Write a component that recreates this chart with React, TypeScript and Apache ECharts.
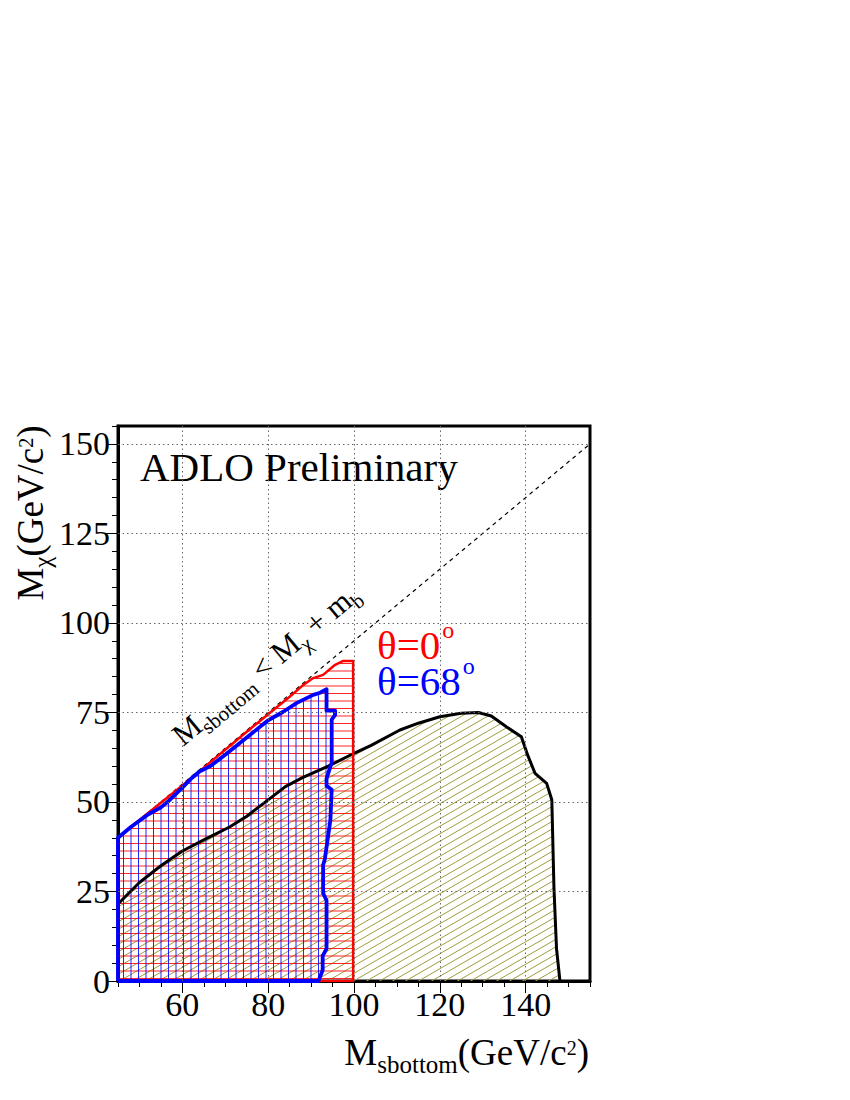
import React, { useEffect, useRef } from "react";
import * as echarts from "echarts";

// ---- axis ranges / ticks ----
const X_MIN = 45;
const X_MAX = 155;
const Y_MIN = 0;
const Y_MAX = 155;
const xLabelValues = [60, 80, 100, 120, 140];
const yLabelValues = [0, 25, 50, 75, 100, 125, 150];
const xGridValues = [60, 80, 100, 120, 140];
const yGridValues = [25, 50, 75, 100, 125, 150];

// ---- excluded region (black boundary, olive hatch) ----
const excludedBoundary: number[][] = [
  [45, 21.5], [50, 27.5], [55, 32.2], [60, 36.3], [65, 39.4], [71, 43],
  [75, 46], [80, 50.6], [84, 54.3], [88, 56.8], [94, 60], [100, 63.6],
  [104, 65.8], [110.7, 70.1], [115, 72], [120, 73.8], [125, 74.8], [129, 75],
  [132, 74], [135.5, 71], [139, 68.2], [140.5, 63], [142.2, 58], [144.9, 55.2],
  [146.1, 50.6], [146.6, 26], [147.2, 9], [148, 0],
];

// ---- theta = 0 deg region (red) ----
const theta0Boundary: number[][] = [
  [45, 0], [45, 40], [50, 45], [55, 49.8], [60, 54.6], [65, 59.6], [70, 64.6],
  [75, 69.6], [80, 74.5], [85, 79.4], [88, 82.5], [90.5, 84.6], [92.8, 85.5],
  [95.6, 88.3], [97.5, 89.4], [99.8, 89.4], [99.8, 0], [45, 0],
];

// ---- theta = 68 deg region (blue) ----
const theta68Boundary: number[][] = [
  [45, 0], [45, 40], [48, 43], [52, 46.5], [55, 48.5], [57, 50.5], [60, 54],
  [62, 56.5], [64, 58.5], [66.5, 60], [70, 63.2], [75, 68], [80, 72.8],
  [83.5, 75.2], [86.6, 77.6], [90.5, 79.9], [92.1, 80.5], [93.6, 81.5],
  [93.6, 75.5], [95.6, 75.5], [95.6, 74.3], [94.8, 73], [94.8, 61],
  [93.6, 56.5], [93.6, 54.5], [94.8, 53.4], [94.5, 45], [93.2, 34],
  [92.8, 32.4], [92.8, 24.5], [93.6, 22.5], [93.6, 9], [92.7, 7], [92.7, 3],
  [91.7, 0], [45, 0],
];

// ---- kinematic limit M_sbottom = M_chi + m_b ----
const kinematicLimit: number[][] = [[45, 40], [155, 150]];

const SERIF = "Liberation Serif";
const K = 0.3375; // (ascent - descent)/2 of Liberation Serif, in em

function makeHatch(kind: "diag" | "horiz" | "vert") {
  const c = document.createElement("canvas");
  let w = 26;
  let h = 15;
  if (kind === "horiz") { w = 8; h = 15; }
  if (kind === "vert") { w = 15; h = 8; }
  c.width = w;
  c.height = h;
  const ctx = c.getContext("2d")!;
  ctx.clearRect(0, 0, w, h);
  if (kind === "diag") {
    ctx.strokeStyle = "rgb(160,155,60)";
    ctx.lineWidth = 1;
    for (let k = -2; k <= 3; k++) {
      ctx.beginPath();
      ctx.moveTo(0, 15 - 7.5 * k);
      ctx.lineTo(26, -7.5 * k);
      ctx.stroke();
    }
  } else if (kind === "horiz") {
    ctx.strokeStyle = "rgba(255,0,0,0.85)";
    ctx.lineWidth = 1;
    [3.5, 11].forEach((y) => {
      ctx.beginPath();
      ctx.moveTo(0, y);
      ctx.lineTo(w, y);
      ctx.stroke();
    });
  } else {
    ctx.strokeStyle = "rgba(0,0,255,0.85)";
    ctx.lineWidth = 1;
    [3.5, 11].forEach((x) => {
      ctx.beginPath();
      ctx.moveTo(x, 0);
      ctx.lineTo(x, h);
      ctx.stroke();
    });
  }
  return { image: c.toDataURL(), repeat: "repeat", imageWidth: w, imageHeight: h };
}

// rich text with sub/superscripts; token "height" drives vertical placement
function richSet(F: number, fSub: number, fSup: number, L: number, drop: number, rise: number, color: string) {
  const b = L / 2 + K * F;
  const hSub = Math.max(1, 2 * (L + K * fSub - b - drop));
  const hSup = Math.max(1, 2 * (b - rise - K * fSup));
  return {
    b,
    rich: {
      m: { fontFamily: SERIF, fontSize: F, lineHeight: L, fill: color, verticalAlign: "middle" },
      sub: { fontFamily: SERIF, fontSize: fSub, height: hSub, lineHeight: L, fill: color, verticalAlign: "bottom" },
      sup: { fontFamily: SERIF, fontSize: fSup, height: hSup, lineHeight: L, fill: color, verticalAlign: "top" },
    },
  };
}

export default function App() {
  const ref = useRef<HTMLDivElement>(null);

  useEffect(() => {
    if (!ref.current) return;
    const chart = echarts.init(ref.current, null, { renderer: "svg" });

    const olive = makeHatch("diag");
    const red = makeHatch("horiz");
    const blue = makeHatch("vert");

    const areaSeries = (data: number[][], pattern: any) => ({
      type: "line",
      data,
      xAxisIndex: 0,
      yAxisIndex: 0,
      showSymbol: false,
      symbol: "none",
      lineStyle: { width: 0, opacity: 0 },
      areaStyle: { color: pattern, opacity: 1 },
      silent: true,
      z: 2,
    });
    const lineSeries = (data: number[][], color: string, width: number) => ({
      type: "line",
      data,
      xAxisIndex: 0,
      yAxisIndex: 0,
      showSymbol: false,
      symbol: "none",
      lineStyle: { color, width, join: "round" },
      silent: true,
      z: 3,
    });

    const axisFont = { fontFamily: SERIF, fontSize: 34, color: "#000" };

    // text layouts
    const titleSet = richSet(37, 25, 20, 44, 8, 10, "#000");
    const diagSet = richSet(31, 21, 21, 36, 7, 0, "#000");
    const diagAngle = 0.6954;
    const diagBase = [183, 747]; // baseline start on screen
    const diagX = diagBase[0] - Math.sin(diagAngle) * diagSet.b;
    const diagY = diagBase[1] - Math.cos(diagAngle) * diagSet.b;

    // theta labels: two lines, 36px apart, degree sign raised
    const thRed = richSet(41, 24, 24, 36, 0, 21, "#ff0000");
    const thBlue = richSet(41, 24, 24, 36, 0, 21, "#0000ff");
    const thRich = {
      r: thRed.rich.m,
      rs: { ...thRed.rich.sup, padding: [0, 0, 0, 2] },
      bl: thBlue.rich.m,
      bs: { ...thBlue.rich.sup, padding: [0, 0, 0, 2] },
    };

    chart.setOption({
      animation: false,
      backgroundColor: "#fff",
      grid: {
        left: 118,
        top: 426,
        width: 472,
        height: 555,
        show: true,
        borderColor: "#000",
        borderWidth: 3,
        backgroundColor: "transparent",
        containLabel: false,
        outerBoundsMode: "none",
      },
      xAxis: [
        {
          type: "value",
          min: X_MIN,
          max: X_MAX,
          interval: 5,
          axisLine: { show: true, onZero: false, lineStyle: { color: "#000", width: 3 } },
          axisTick: { show: true, inside: false, length: 6, lineStyle: { color: "#000", width: 1 } },
          axisLabel: { show: false },
          splitLine: { show: false },
        },
        {
          type: "value",
          min: X_MIN,
          max: X_MAX,
          interval: 5,
          position: "bottom",
          axisLine: { show: false, onZero: false },
          axisTick: {
            show: true,
            inside: false,
            length: 12,
            customValues: xLabelValues,
            lineStyle: { color: "#000", width: 1 },
          },
          axisLabel: {
            ...axisFont,
            margin: 6,
            customValues: xLabelValues,
            formatter: (v: number) => (xLabelValues.includes(v) ? String(v) : ""),
          },
          splitLine: { show: false },
        },
      ],
      yAxis: [
        {
          type: "value",
          min: Y_MIN,
          max: Y_MAX,
          interval: 5,
          axisLine: { show: true, onZero: false, lineStyle: { color: "#000", width: 3 } },
          axisTick: { show: true, inside: false, length: 6, lineStyle: { color: "#000", width: 1 } },
          axisLabel: { show: false },
          splitLine: { show: false },
        },
        {
          type: "value",
          min: Y_MIN,
          max: Y_MAX,
          interval: 5,
          position: "left",
          axisLine: { show: false, onZero: false },
          axisTick: {
            show: true,
            inside: false,
            length: 12,
            customValues: yLabelValues,
            lineStyle: { color: "#000", width: 1 },
          },
          axisLabel: {
            ...axisFont,
            margin: 8,
            customValues: yLabelValues,
            formatter: (v: number) => (yLabelValues.includes(v) ? String(v) : ""),
          },
          splitLine: { show: false },
        },
      ],
      series: [
        areaSeries(excludedBoundary, olive),
        areaSeries(theta0Boundary, red),
        areaSeries(theta68Boundary, blue),
        {
          type: "line",
          data: kinematicLimit,
          xAxisIndex: 0,
          yAxisIndex: 0,
          showSymbol: false,
          symbol: "none",
          lineStyle: { color: "#000", width: 1.2, type: [4, 4] },
          silent: true,
          z: 3,
          markLine: {
            silent: true,
            symbol: ["none", "none"],
            label: { show: false },
            lineStyle: { type: [1.5, 3], color: "#666", width: 1 },
            data: [
              ...xGridValues.map((v) => ({ xAxis: v })),
              ...yGridValues.map((v) => ({ yAxis: v })),
            ],
          },
        },
        lineSeries(excludedBoundary, "#000", 3),
        lineSeries(theta0Boundary, "#ff0000", 2.5),
        lineSeries(theta68Boundary, "#0000ff", 3.8),
      ],
      graphic: [
        {
          type: "text",
          x: 140,
          y: 446,
          style: {
            text: "ADLO Preliminary",
            fontFamily: SERIF,
            fontSize: 41,
            lineHeight: 41,
            fill: "#000",
            align: "left",
            verticalAlign: "top",
          },
        },
        {
          type: "text",
          x: diagX,
          y: diagY,
          rotation: diagAngle,
          style: {
            text: "{m|M}{sub|sbottom}{m| < M}{sub|χ}{m| + m}{sub|b}",
            rich: diagSet.rich,
            align: "left",
            verticalAlign: "top",
          },
        },
        {
          type: "text",
          x: 377,
          y: 659 - thRed.b,
          style: {
            text: "{r|θ=0}{rs|o}\n{bl|θ=68}{bs|o}",
            rich: thRich,
            align: "left",
            verticalAlign: "top",
          },
        },
        {
          type: "text",
          x: 589,
          y: 1065 - titleSet.b,
          style: {
            text: "{m|M}{sub|sbottom}{m|(GeV/c}{sup|2}{m|)}",
            rich: titleSet.rich,
            align: "right",
            verticalAlign: "top",
          },
        },
        {
          type: "text",
          x: 43 - titleSet.b,
          y: 513,
          rotation: Math.PI / 2,
          style: {
            text: "{m|M}{sub|χ}{m|(GeV/c}{sup|2}{m|)}",
            rich: titleSet.rich,
            align: "center",
            verticalAlign: "top",
          },
        },
      ],
    });

    return () => {
      chart.dispose();
    };
  }, []);

  return (
    <div
      ref={ref}
      style={{ position: "absolute", left: 0, top: 0, width: 850, height: 1100 }}
    />
  );
}
